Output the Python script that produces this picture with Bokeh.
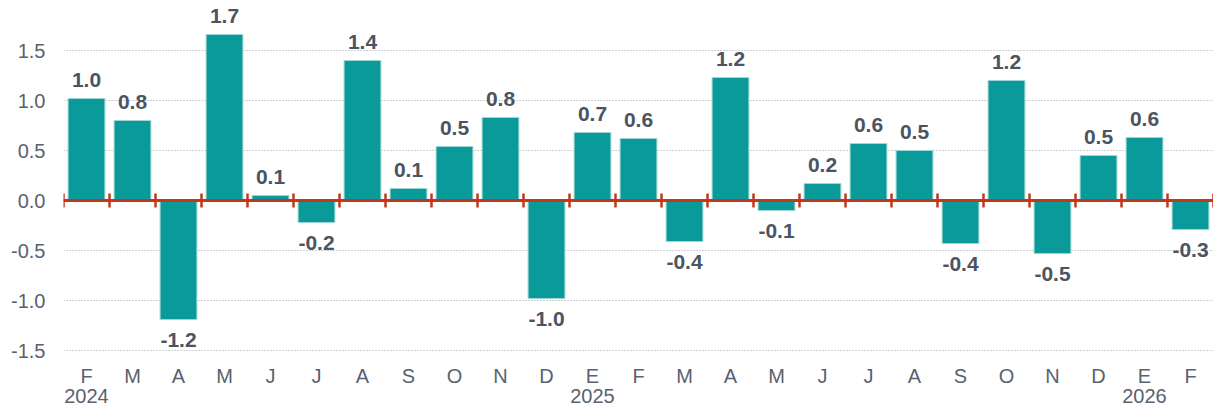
from bokeh.plotting import figure
from bokeh.models import ColumnDataSource, FixedTicker, Range1d, LinearAxis
from bokeh.core.properties import value
from bokeh.embed import file_html
from bokeh.resources import INLINE

months = ["F", "M", "A", "M", "J", "J", "A", "S", "O", "N", "D", "E",
          "F", "M", "A", "M", "J", "J", "A", "S", "O", "N", "D", "E", "F"]
year_pos = [0, 11, 23]
year_labels = ["2024", "2025", "2026"]
values = [1.02, 0.80, -1.19, 1.66, 0.05, -0.22, 1.40, 0.12, 0.54, 0.83, -0.98, 0.68,
          0.62, -0.41, 1.23, -0.10, 0.17, 0.57, 0.50, -0.43, 1.20, -0.53, 0.45, 0.63, -0.29]
labels = ["1.0", "0.8", "-1.2", "1.7", "0.1", "-0.2", "1.4", "0.1", "0.5", "0.8", "-1.0", "0.7",
          "0.6", "-0.4", "1.2", "-0.1", "0.2", "0.6", "0.5", "-0.4", "1.2", "-0.5", "0.5", "0.6", "-0.3"]
y_ticks = [-1.5, -1.0, -0.5, 0.0, 0.5, 1.0, 1.5]

FONT = "Liberation Sans"
BAR = "#0a9a9a"
RED = "#c0391b"
TXT = "#4c545f"
AX = "#59626d"

n = len(values)
xc = [i + 0.5 for i in range(n)]

p = figure(frame_width=1150, frame_height=355, output_backend="svg", toolbar_location=None,
           x_range=Range1d(0, n), y_range=Range1d(-1.55, 2.0),
           min_border_left=63, min_border_right=0, min_border_top=0, min_border_bottom=0)
p.outline_line_color = None
p.background_fill_color = "white"

src = ColumnDataSource(dict(x=xc, top=values))
p.vbar(x="x", top="top", bottom=0, width=0.8, source=src,
       fill_color=BAR, line_color="#9fd6d6", line_width=1)

# zero line with ticks at category boundaries
p.line(x=[0, n], y=[0, 0], line_color=RED, line_width=3)
bx = list(range(n + 1))
p.segment(x0=bx, x1=bx, y0=[-0.07] * len(bx), y1=[0.07] * len(bx), line_color=RED, line_width=2.5)

pos = ColumnDataSource(dict(x=[xc[i] for i in range(n) if values[i] >= 0],
                            y=[values[i] for i in range(n) if values[i] >= 0],
                            t=[labels[i] for i in range(n) if values[i] >= 0]))
neg = ColumnDataSource(dict(x=[xc[i] for i in range(n) if values[i] < 0],
                            y=[values[i] for i in range(n) if values[i] < 0],
                            t=[labels[i] for i in range(n) if values[i] < 0]))
p.text(x="x", y="y", text="t", source=pos, text_font=value(FONT), text_font_size="21px",
       text_font_style="bold", text_color=TXT, text_align="center",
       text_baseline="alphabetic", y_offset=-19)
p.text(x="x", y="y", text="t", source=neg, text_font=value(FONT), text_font_size="21px",
       text_font_style="bold", text_color=TXT, text_align="center",
       text_baseline="top", y_offset=13)

# axes
p.yaxis.ticker = FixedTicker(ticks=y_ticks)
p.yaxis.major_label_overrides = {t: f"{t:.1f}" for t in y_ticks}
p.yaxis.axis_line_color = None
p.yaxis.major_tick_line_color = None
p.yaxis.minor_tick_line_color = None
p.yaxis.major_tick_out = 0
p.yaxis.major_tick_in = 0
p.yaxis.major_label_standoff = 18
p.yaxis.major_label_text_font = FONT
p.yaxis.major_label_text_font_size = "20px"
p.yaxis.major_label_text_color = AX

p.xaxis.ticker = FixedTicker(ticks=xc)
p.xaxis.major_label_overrides = {xc[i]: months[i] for i in range(n)}
p.xaxis.axis_line_color = None
p.xaxis.major_tick_line_color = None
p.xaxis.minor_tick_line_color = None
p.xaxis.major_tick_out = 0
p.xaxis.major_tick_in = 0
p.xaxis.major_label_standoff = 9
p.xaxis.major_label_text_font = FONT
p.xaxis.major_label_text_font_size = "20px"
p.xaxis.major_label_text_color = AX

yax = LinearAxis(ticker=FixedTicker(ticks=[xc[i] for i in year_pos]),
                 major_label_overrides={xc[i]: lab for i, lab in zip(year_pos, year_labels)},
                 axis_line_color=None, major_tick_line_color=None, minor_tick_line_color=None,
                 major_tick_out=0, major_tick_in=0,
                 major_label_standoff=-1, major_label_text_font=FONT,
                 major_label_text_font_size="20px", major_label_text_color=AX)
p.add_layout(yax, "below")

p.xgrid.grid_line_color = None
p.ygrid.ticker = FixedTicker(ticks=[t for t in y_ticks if t != 0])
p.ygrid.grid_line_color = "#9aa3ad"
p.ygrid.grid_line_dash = "1 2"
p.ygrid.grid_line_width = 1

open("out.html", "w").write(file_html(p, INLINE))
